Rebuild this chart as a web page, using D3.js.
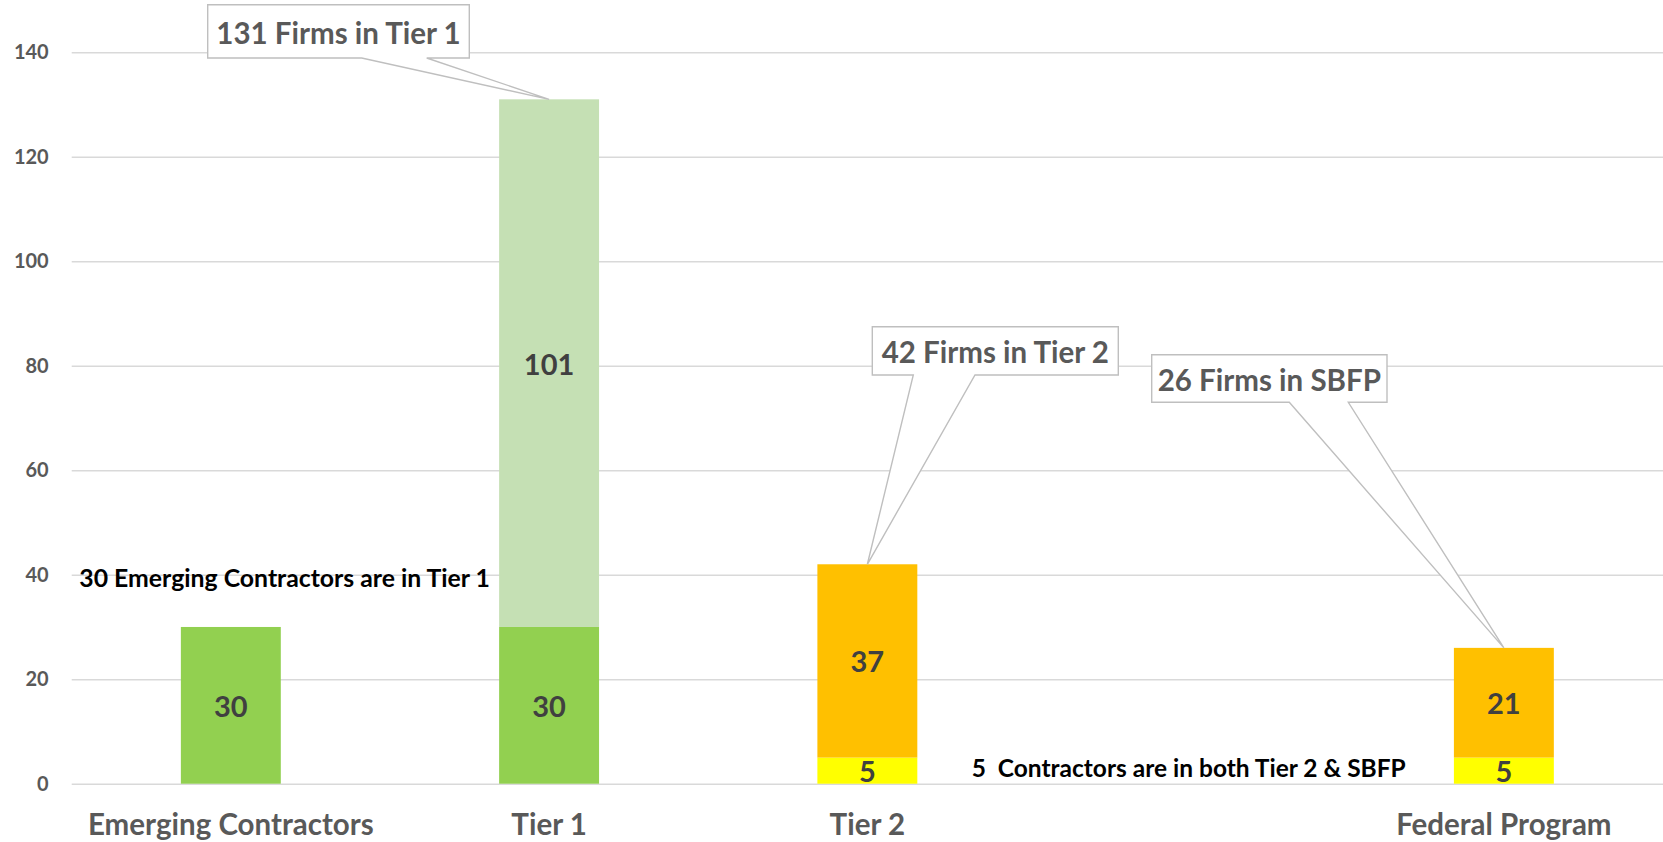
<!DOCTYPE html>
<html>
<head>
<meta charset="utf-8">
<script src="https://cdn.jsdelivr.net/npm/d3@7/dist/d3.min.js"></script>
<style>
  html, body { margin: 0; padding: 0; background: #ffffff; }
  svg { display: block; font-family: Lato, "Open Sans", sans-serif; font-weight: 700; }
</style>
</head>
<body>
<svg id="chart" width="1663" height="842"></svg>
<script>
// Categories along the x axis (the fourth slot is an empty spacer column)
const categories = ["Emerging Contractors", "Tier 1", "Tier 2", "", "Federal Program"];

// Stacked series, bottom to top
const emergingInTier1 = [30, 30, 0, 0, 0];   // dark green
const tier1Other      = [0, 101, 0, 0, 0];   // light green
const inBothPrograms  = [0, 0, 5, 0, 5];     // yellow
const programOther    = [0, 0, 37, 0, 21];   // orange

const seriesKeys   = ["emergingInTier1", "tier1Other", "inBothPrograms", "programOther"];
const seriesColors = ["#92d050", "#c5e0b4", "#ffff00", "#ffc000"];

// Y axis ticks
const yTicks = [0, 20, 40, 60, 80, 100, 120, 140];

// Callouts: text and the category whose stack top they point at
const calloutTexts   = ["131 Firms in Tier 1", "42 Firms in Tier 2", "26 Firms in SBFP"];
const calloutTargets = ["Tier 1", "Tier 2", "Federal Program"];

// Free-standing notes
const noteTexts = ["30 Emerging Contractors are in Tier 1", "5  Contractors are in both Tier 2 & SBFP"];

const rows = categories.map((c, i) => ({
  category: c,
  emergingInTier1: emergingInTier1[i],
  tier1Other: tier1Other[i],
  inBothPrograms: inBothPrograms[i],
  programOther: programOther[i]
}));

const svg = d3.select("#chart");
const plotLeft = 71.7, plotRight = 1663, plotTop = 52.3, plotBottom = 783.7;

const x = d3.scaleBand()
  .domain(categories)
  .range([plotLeft, plotRight])
  .paddingInner(0.686)
  .paddingOuter(0.343);

const y = d3.scaleLinear().domain([0, 140]).range([plotBottom, plotTop]);

// Gridlines and y tick labels
const yAxis = svg.append("g")
  .attr("transform", `translate(${plotLeft},0)`)
  .call(d3.axisLeft(y).tickValues(yTicks).tickSize(-(plotRight - plotLeft)).tickPadding(23));
yAxis.select(".domain").remove();
yAxis.selectAll(".tick line").attr("stroke", "#d9d9d9").attr("stroke-width", 1.4);
yAxis.selectAll(".tick text")
  .attr("fill", "#595959")
  .style("font-family", "Lato, sans-serif")
  .style("font-weight", 700)
  .style("font-size", "20px");

// Stacked bars
const stacked = d3.stack().keys(seriesKeys)(rows);
const layers = svg.append("g").selectAll("g")
  .data(stacked)
  .join("g")
  .attr("fill", (d, i) => seriesColors[i]);

layers.selectAll("rect")
  .data(d => d.filter(s => s[1] - s[0] > 0))
  .join("rect")
  .attr("x", d => x(d.data.category))
  .attr("width", x.bandwidth())
  .attr("y", d => y(d[1]))
  .attr("height", d => y(d[0]) - y(d[1]));

// Value labels inside each segment
const labelG = svg.append("g");
stacked.forEach(layer => {
  layer.filter(s => s[1] - s[0] > 0).forEach(s => {
    labelG.append("text")
      .attr("x", x(s.data.category) + x.bandwidth() / 2)
      .attr("y", (y(s[0]) + y(s[1])) / 2)
      .attr("text-anchor", "middle")
      .attr("dominant-baseline", "central")
      .attr("fill", "#404040")
      .style("font-size", "29px")
      .text(s[1] - s[0]);
  });
});

// Category labels
const xAxis = svg.append("g")
  .attr("transform", `translate(0,${plotBottom})`)
  .call(d3.axisBottom(x).tickSize(0));
xAxis.select(".domain").remove();
xAxis.selectAll(".tick text")
  .attr("y", 51.5)
  .attr("dy", null)
  .attr("fill", "#595959")
  .style("font-family", "Lato, sans-serif")
  .style("font-weight", 700)
  .style("font-size", "29.5px");

// Wedge callouts pointing at the top of each stack
const totals = rows.map(r => seriesKeys.reduce((a, k) => a + r[k], 0));
const calloutBoxes = [
  { x0: 207.7, y0: 4.7,   x1: 469.3, y1: 58,    b0: 361.7,  b1: 426.7 },
  { x0: 872.3, y0: 326.7, x1: 1118.3, y1: 375,  b0: 913.3,  b1: 975 },
  { x0: 1151.7, y0: 354.7, x1: 1387, y1: 402.3, b0: 1289.3, b1: 1348.3 }
];
const calloutG = svg.append("g");
calloutTexts.forEach((t, i) => {
  const b = calloutBoxes[i];
  const ci = categories.indexOf(calloutTargets[i]);
  const tipX = x(calloutTargets[i]) + x.bandwidth() / 2;
  const tipY = y(totals[ci]);
  const p = d3.path();
  p.moveTo(b.x0, b.y0);
  p.lineTo(b.x1, b.y0);
  p.lineTo(b.x1, b.y1);
  p.lineTo(b.b1, b.y1);
  p.lineTo(tipX, tipY);
  p.lineTo(b.b0, b.y1);
  p.lineTo(b.x0, b.y1);
  p.closePath();
  calloutG.append("path")
    .attr("d", p.toString())
    .attr("fill", "#ffffff")
    .attr("stroke", "#bfbfbf")
    .attr("stroke-width", 1.4)
    .attr("stroke-linejoin", "miter");
  calloutG.append("text")
    .attr("x", (b.x0 + b.x1) / 2)
    .attr("y", (b.y0 + b.y1) / 2 + 1)
    .attr("text-anchor", "middle")
    .attr("dominant-baseline", "central")
    .attr("fill", "#595959")
    .style("font-size", "29.5px")
    .text(t);
});

// Notes
svg.append("text")
  .attr("x", 79.3).attr("y", 587.3)
  .attr("fill", "#000000")
  .style("font-size", "24.8px")
  .text(noteTexts[0]);
svg.append("text")
  .attr("x", 971.7).attr("y", 776.7)
  .attr("fill", "#000000")
  .style("font-size", "24.5px")
  .style("white-space", "pre")
  .attr("xml:space", "preserve")
  .text(noteTexts[1]);
</script>
</body>
</html>
